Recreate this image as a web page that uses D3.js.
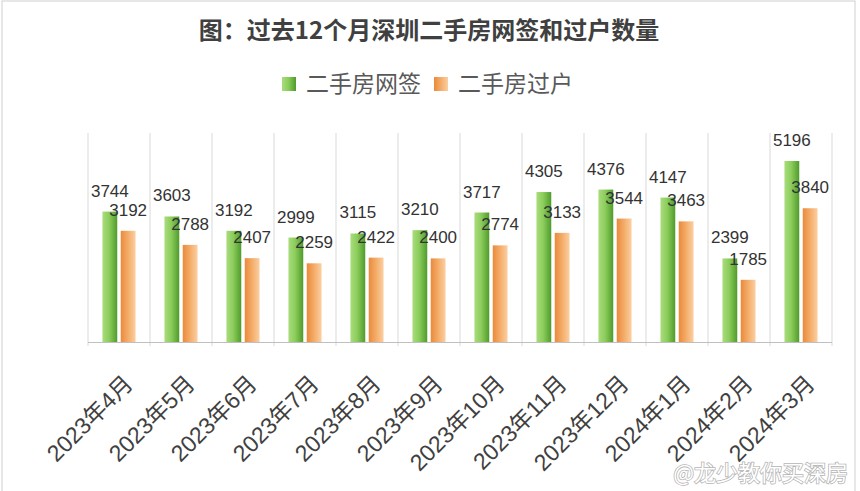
<!DOCTYPE html>
<html><head><meta charset="utf-8">
<script src="https://cdn.jsdelivr.net/npm/d3@7"></script>
<style>
html,body{margin:0;padding:0;background:#fff;}
svg{display:block;font-family:"Liberation Sans","Noto Sans CJK SC",sans-serif;}
</style></head>
<body>
<svg id="c" width="860" height="491"></svg>
<script>
const categories = ["2023年4月","2023年5月","2023年6月","2023年7月","2023年8月","2023年9月","2023年10月","2023年11月","2023年12月","2024年1月","2024年2月","2024年3月"];
const seriesNames = ["二手房网签","二手房过户"];
const wangqian = [3744,3603,3192,2999,3115,3210,3717,4305,4376,4147,2399,5196];
const guohu = [3192,2788,2407,2259,2422,2400,2774,3133,3544,3463,1785,3840];
const titleText = "图：过去12个月深圳二手房网签和过户数量";
const yDomain = [0,6000];

const svg = d3.select("#c");
const defs = svg.append("defs");
const gG = defs.append("linearGradient").attr("id","gGreen").attr("x1","0").attr("x2","1").attr("y1","0").attr("y2","0");
gG.append("stop").attr("offset","0%").attr("stop-color","#a9dc7c");
gG.append("stop").attr("offset","45%").attr("stop-color","#8ccd5c");
gG.append("stop").attr("offset","100%").attr("stop-color","#4f9b2c");
const gO = defs.append("linearGradient").attr("id","gOrange").attr("x1","0").attr("x2","1").attr("y1","0").attr("y2","0");
gO.append("stop").attr("offset","0%").attr("stop-color","#ea8a3a");
gO.append("stop").attr("offset","55%").attr("stop-color","#f5b06f");
gO.append("stop").attr("offset","100%").attr("stop-color","#fbcfa2");
const fills = ["url(#gGreen)","url(#gOrange)"];

// frame
svg.append("rect").attr("x",2).attr("y",1).attr("width",853).attr("height",495)
  .attr("fill","none").attr("stroke","#d0d0d0").attr("stroke-width",1);

const plot = {left:88,right:832,top:133,bottom:342};
const x0 = d3.scaleBand().domain(categories).range([plot.left,plot.right]).paddingInner(0).paddingOuter(0);
const x1 = d3.scaleBand().domain(seriesNames).range([0,x0.bandwidth()]).paddingInner(0.19).paddingOuter(0.79);
const y = d3.scaleLinear().domain(yDomain).range([plot.bottom,plot.top]);

// vertical gridlines at category boundaries
const bounds = categories.map(c=>x0(c)).concat([plot.right]);
svg.append("g").selectAll("line").data(bounds).join("line")
  .attr("x1",d=>d).attr("x2",d=>d).attr("y1",plot.top).attr("y2",plot.bottom+4)
  .attr("stroke","#d9d9d9").attr("stroke-width",1);

// bars
const data = categories.map((c,i)=>({c, vals:[wangqian[i],guohu[i]]}));
const groups = svg.append("g").selectAll("g").data(data).join("g")
  .attr("transform",d=>`translate(${x0(d.c)},0)`);
groups.selectAll("rect").data(d=>d.vals.map((v,j)=>({v,j}))).join("rect")
  .attr("x",d=>x1(seriesNames[d.j])).attr("width",x1.bandwidth())
  .attr("y",d=>y(d.v)).attr("height",d=>y(0)-y(d.v))
  .attr("fill",d=>fills[d.j]);

// baseline
svg.append("line").attr("x1",plot.left).attr("x2",plot.right).attr("y1",plot.bottom+0.5).attr("y2",plot.bottom+0.5)
  .attr("stroke","#bfbfbf").attr("stroke-width",1);

// value labels
const labels = [];
data.forEach(d=>d.vals.forEach((v,j)=>labels.push({c:d.c,v,j})));
svg.append("g").selectAll("text").data(labels).join("text")
  .attr("x",d=>x0(d.c)+x1(seriesNames[d.j])+x1.bandwidth()/2)
  .attr("y",d=>y(d.v)-15)
  .attr("text-anchor","middle")
  .attr("font-size",17).attr("fill","#333")
  .text(d=>d.v);

// x tick labels
svg.append("g").selectAll("text").data(categories).join("text")
  .attr("transform",d=>`translate(${x0(d)+x0.bandwidth()/2+2},372) rotate(-45)`)
  .attr("text-anchor","end").attr("dy","0.82em")
  .attr("font-size",23).attr("fill","#404040")
  .text(d=>d);

// title
svg.append("text").attr("x",429).attr("y",39).attr("text-anchor","middle")
  .attr("font-size",24).attr("font-weight","bold").attr("fill","#404040")
  .attr("font-family","'Noto Sans CJK SC',sans-serif")
  .text(titleText);

// legend
const legX = [282,434];
const lg = svg.append("g").selectAll("g").data(seriesNames).join("g")
  .attr("transform",(d,i)=>`translate(${legX[i]},77)`);
lg.append("rect").attr("width",14).attr("height",14).attr("fill",(d,i)=>fills[i]);
lg.append("text").attr("x",24).attr("y",15).attr("font-size",23).attr("fill","#595959")
  .attr("font-family","'Noto Sans CJK SC',sans-serif")
  .text(d=>d);

// weibo watermark
svg.append("text").attr("x",848).attr("y",481).attr("text-anchor","end")
  .attr("font-size",22).attr("fill","#ffffff").attr("stroke","#b5b5b5").attr("stroke-width",1.6)
  .attr("paint-order","stroke").attr("font-family","'Noto Sans CJK SC',sans-serif")
  .text("@龙少教你买深房");
</script>
</body></html>
